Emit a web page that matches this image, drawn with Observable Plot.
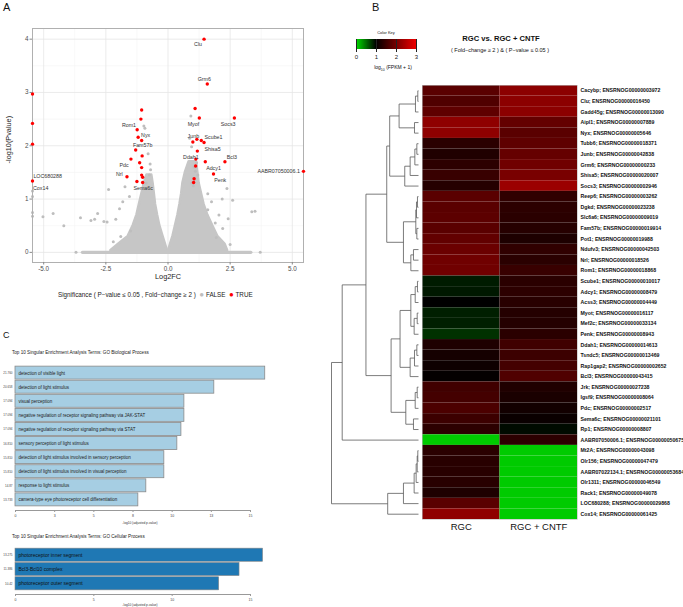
<!DOCTYPE html>
<html><head><meta charset="utf-8">
<script src="https://cdn.jsdelivr.net/npm/d3@7"></script>
<script src="https://cdn.jsdelivr.net/npm/@observablehq/plot@0.6"></script>
<style>
body{margin:0;background:#fff;}
#root{position:relative;width:683px;height:607px;overflow:hidden;background:#fff;font-family:"Liberation Sans",Arial,sans-serif;color:#222;}
#root svg{overflow:visible;}
.t{position:absolute;white-space:nowrap;line-height:1;}
</style></head><body><div id="root"></div>
<script>
// ---------------- Panel A: volcano ----------------
const volcRed = [
  {x:1.45,y:4.0},{x:1.58,y:3.16},{x:1.09,y:2.70},{x:1.26,y:2.52},{x:2.67,y:2.52},{x:1.16,y:2.12},
  {x:1.34,y:2.10},{x:1.45,y:2.06},{x:1.0,y:2.07},{x:1.18,y:1.90},{x:1.12,y:1.75},{x:2.29,y:1.70},
  {x:1.5,y:1.70},{x:1.11,y:1.62},{x:1.83,y:1.47},{x:1.05,y:1.38},{x:1.03,y:1.31},{x:5.45,y:1.52},
  {x:-1.06,y:2.67},{x:-1.09,y:2.50},{x:-1.24,y:2.30},{x:-1.2,y:2.16},{x:-1.06,y:2.10},{x:-1.30,y:1.92},
  {x:-1.04,y:1.81},{x:-1.49,y:1.75},{x:-1.14,y:1.68},{x:-1.06,y:1.59},{x:-1.65,y:1.42},{x:-1.06,y:1.45},
  {x:-1.02,y:1.41},{x:-1.25,y:1.33},{x:-1.02,y:1.31},
  {x:-5.45,y:2.97},{x:-5.45,y:2.42},{x:-5.45,y:2.03},{x:-5.45,y:1.34}
];
const volcGray = [
  {x:-0.97,y:2.37},{x:-0.93,y:2.33},{x:-0.8,y:1.85},{x:-0.72,y:1.66},{x:-0.7,y:1.55},{x:-0.75,y:1.45},
  {x:-0.88,y:1.3},{x:-0.78,y:1.2},{x:0.92,y:2.56},{x:0.87,y:2.14},{x:0.95,y:1.98},{x:1.05,y:1.6},
  {x:1.1,y:1.52},{x:1.2,y:1.45},{x:1.15,y:1.68},{x:0.95,y:1.3},{x:1.02,y:1.25},
  {x:-5.45,y:1.15},{x:-5.45,y:1.05},{x:-5.45,y:0.75},{x:-5.45,y:0.68},{x:-5.03,y:0.67},{x:-4.62,y:0.73},
  {x:-4.19,y:0.5},{x:-3.7,y:0},{x:-3.52,y:0.65},{x:-3.1,y:0.6},{x:-2.95,y:0.62},{x:-2.83,y:0.73},
  {x:-2.58,y:0.58},{x:-2.45,y:0.57},{x:-2.39,y:1.18},{x:-2.1,y:0.62},{x:-1.95,y:0.82},{x:-1.73,y:1.23},
  {x:-1.82,y:0.95},{x:-1.55,y:1.05},{x:-1.5,y:0.4},{x:-1.9,y:0.3},{x:-2.2,y:0.2},
  {x:1.6,y:1.1},{x:1.75,y:0.95},{x:1.94,y:0.28},{x:2.05,y:0.7},{x:2.18,y:1.0},{x:2.37,y:1.2},
  {x:2.6,y:0.98},{x:2.42,y:0.63},{x:2.2,y:0.45},{x:2.5,y:0.15},{x:3.37,y:0.76},{x:3.5,y:0.77},
  {x:3.71,y:0},{x:1.9,y:0.55},{x:1.6,y:0.8}
];
const volcLeftArm = [
  {y:0.03,x1:-2.3,x2:-0.02},{y:0.15,x1:-2.0,x2:-0.1},{y:0.3,x1:-1.6,x2:-0.2},{y:0.5,x1:-1.4,x2:-0.33},
  {y:0.7,x1:-1.25,x2:-0.42},{y:0.9,x1:-1.15,x2:-0.5},{y:1.1,x1:-1.05,x2:-0.55},{y:1.3,x1:-0.95,x2:-0.6},
  {y:1.45,x1:-0.85,x2:-0.65}
];
const volcRightArm = [
  {y:0.03,x1:0.02,x2:2.4},{y:0.15,x1:0.1,x2:2.3},{y:0.3,x1:0.2,x2:2.0},{y:0.5,x1:0.3,x2:1.8},
  {y:0.7,x1:0.4,x2:1.6},{y:0.9,x1:0.48,x2:1.45},{y:1.1,x1:0.55,x2:1.35},{y:1.3,x1:0.6,x2:1.25},
  {y:1.5,x1:0.7,x2:1.2},{y:1.7,x1:0.85,x2:1.15}
];
const volcZeroBand = [{x1:-3.44,x2:3.33,y:0}];
const volcLabels = [
  {name:"Clu",x:1.21,y:3.90},{name:"Grm6",x:1.46,y:3.24},{name:"Myof",x:1.02,y:2.40},
  {name:"Socs3",x:2.42,y:2.40},{name:"Junb",x:1.02,y:2.18},{name:"Scube1",x:1.83,y:2.15},
  {name:"Shisa5",x:1.79,y:1.94},{name:"Ddah1",x:0.92,y:1.79},{name:"Bcl3",x:2.57,y:1.79},
  {name:"Adcy1",x:1.83,y:1.58},{name:"Penk",x:2.10,y:1.35},{name:"AABR07050006.1",x:4.45,y:1.53},
  {name:"Rom1",x:-1.57,y:2.38},{name:"Nyx",x:-0.9,y:2.19},{name:"Fam57b",x:-1.02,y:2.01},
  {name:"Pdc",x:-1.77,y:1.63},{name:"Nrl",x:-1.96,y:1.46},{name:"Sema6c",x:-1.0,y:1.21},
  {name:"LOC680288",x:-4.84,y:1.43},{name:"Cox14",x:-5.12,y:1.21}
];
const volcXTicks = [-5,-2.5,0,2.5,5];
const volcYTicks = [0,1,2,3,4];

// ---------------- Panel B: heatmap ----------------
const samples = ["RGC","RGC + CNTF"];
const genes = [
"Cacybp; ENSRNOG00000003972","Clu; ENSRNOG00000016450","Gadd45g; ENSRNOG00000013090",
"Aipl1; ENSRNOG00000007889","Nyx; ENSRNOG00000005646","Tubb6; ENSRNOG00000018371",
"Junb; ENSRNOG00000042838","Grm6; ENSRNOG00000000233","Shisa5; ENSRNOG00000020007",
"Socs3; ENSRNOG00000002946","Reep6; ENSRNOG00000003262","Dgkd; ENSRNOG00000023238",
"Slc6a6; ENSRNOG00000009019","Fam57b; ENSRNOG00000019914","Pot1; ENSRNOG00000019988",
"Ndufv3; ENSRNOG00000042503","Nrl; ENSRNOG00000018526","Rom1; ENSRNOG00000018868",
"Scube1; ENSRNOG00000010017","Adcy1; ENSRNOG00000008479","Acss3; ENSRNOG00000004449",
"Myot; ENSRNOG00000016117","Mef2c; ENSRNOG00000033134","Penk; ENSRNOG00000008943",
"Ddah1; ENSRNOG00000014613","Tsndc5; ENSRNOG00000013469","Rap1gap2; ENSRNOG00000002652",
"Bcl3; ENSRNOG00000043415","Jrk; ENSRNOG00000027238","Igsf9; ENSRNOG00000008064",
"Pdc; ENSRNOG00000002517","Sema6c; ENSRNOG00000021101","Rp1; ENSRNOG00000008807",
"AABR07050006.1; ENSRNOG00000050675","Mt2A; ENSRNOG00000043098","Olr156; ENSRNOG00000047479",
"AABR07022134.1; ENSRNOG00000053684","Olr1311; ENSRNOG00000046549","Rack1; ENSRNOG00000049078",
"LOC680288; ENSRNOG00000029868","Cox14; ENSRNOG00000061425"
];
const rgcValues = [1.76,1.67,1.80,2.20,2.20,1.35,1.27,1.37,1.47,1.31,1.76,1.76,1.77,1.76,1.82,1.90,1.94,1.94,0.88,0.89,1.00,0.86,0.86,0.78,1.25,1.18,1.12,1.03,1.54,1.57,1.64,1.50,1.37,0.08,1.35,1.34,1.34,1.34,1.25,1.76,2.20];
const cntfValues = [2.18,2.18,2.18,1.84,1.76,1.80,1.85,1.94,2.02,2.30,1.40,1.37,1.35,1.32,1.24,1.40,1.35,1.47,1.35,1.37,1.34,1.30,1.30,1.35,1.54,1.50,1.57,1.67,1.27,1.22,1.15,1.08,0.95,1.37,0.08,0.08,0.08,0.08,0.08,0.08,0.08];
// row dendrogram: [height, left, right], leaves are row indices
const rowTree = [10.0,
  [8.77,
    [6.04,
      [3.65,
        [3.31, [2.23, [0.35,[0.08,0,1],2], [0.46,3,4]], [1.58,[0.96,[0.42,[0.19,5,6],7],8],9]],
        [1.73, [0.31,[0.23,[0.12,10,11],12],[0.19,13,14]], [0.88,[0.58,15,16],17]]
      ],
      [3.15,
        [2.12, [0.88,[0.38,[0.12,18,19],20],[0.5,[0.15,21,22],23]], [0.96,[0.46,[0.19,24,25],26],27]],
        [1.46, [0.38,[0.15,28,29],30], [0.58,31,32]]
      ]
    ],
    33
  ],
  [3.54, [1.73,[0.5,[0.27,[0.15,[0.08,34,35],36],37],38],39],40]
];
const keyTicks = [0,1,2,3];
const keyColors = ["#00dd00","#000000","#770000","#ee0000"];

// ---------------- Panel C: GO bars ----------------
const bpTerms = ["detection of visible light","detection of light stimulus","visual perception",
 "negative regulation of receptor signaling pathway via JAK-STAT",
 "negative regulation of receptor signaling pathway via STAT",
 "sensory perception of light stimulus","detection of light stimulus involved in sensory perception",
 "detection of light stimulus involved in visual perception","response to light stimulus",
 "camera-type eye photoreceptor cell differentiation"];
const bpValues = [15.94,12.69,10.78,10.78,10.59,10.33,9.5,9.5,8.35,7.84];
const bpSide = ["21.760","20.658","17.094","17.094","17.094","16.810","15.810","15.810","14.87","13.733"];
const bpTicks = [0,2.5,5,7.5,10,12.5,15];
const ccTerms = ["photoreceptor inner segment","Bcl3-Bcl10 complex","photoreceptor outer segment"];
const ccValues = [15.8,14.3,13.0];
const ccSide = ["13.275","11.386","10.42"];
const ccTicks = [0,5,10,15];

// ================= drawing =================
const root = document.getElementById("root");
function place(el, x, y){ el.style.position="absolute"; el.style.left=x+"px"; el.style.top=y+"px"; root.append(el); return el; }
function txt(s, x, y, css, center){ const d=document.createElement("div"); d.className="t"; d.textContent=s;
  d.style.left=x+"px"; d.style.top=y+"px"; d.style.cssText += css||""; if(center) d.style.transform="translate(-50%,0)"; root.append(d); return d; }

// Panel A
const volcano = Plot.plot({
  width: 310, height: 290, marginLeft: 32, marginRight: 7, marginTop: 28, marginBottom: 28,
  style: {fontFamily:"Liberation Sans, Arial, sans-serif", background:"transparent", color:"#4d4d4d"},
  x: {domain:[-5.45,5.45]}, y: {domain:[-0.19,4.2]},
  marks: [
    Plot.gridX([-3.75,-1.25,1.25,3.75], {stroke:"#f3f3f3", strokeOpacity:1, strokeWidth:0.6}),
    Plot.gridY([0.5,1.5,2.5,3.5], {stroke:"#f3f3f3", strokeOpacity:1, strokeWidth:0.6}),
    Plot.gridX(volcXTicks, {stroke:"#e6e6e6", strokeOpacity:1, strokeWidth:0.8}),
    Plot.gridY(volcYTicks, {stroke:"#e6e6e6", strokeOpacity:1, strokeWidth:0.8}),
    Plot.areaX(volcLeftArm, {y:"y", x1:"x1", x2:"x2", fill:"#c6c6c6", stroke:"#c6c6c6", strokeWidth:2.5, strokeLinejoin:"round"}),
    Plot.areaX(volcRightArm, {y:"y", x1:"x1", x2:"x2", fill:"#c6c6c6", stroke:"#c6c6c6", strokeWidth:2.5, strokeLinejoin:"round"}),
    Plot.link(volcZeroBand, {x1:"x1", x2:"x2", y1:"y", y2:"y", stroke:"#c6c6c6", strokeWidth:3.4, strokeLinecap:"round"}),
    Plot.dot(volcGray, {x:"x", y:"y", r:1.5, fill:"#bebebe"}),
    Plot.frame({stroke:"#b0b0b0"}),
    Plot.dot(volcRed, {x:"x", y:"y", r:1.7, fill:"#ff0000"}),
    Plot.text(volcLabels, {x:"x", y:"y", text:"name", fontSize:5.3, fill:"#333"}),
    Plot.axisX({ticks:volcXTicks, tickFormat:d=>d.toFixed(1), tickSize:2.5, tickPadding:1.5, fontSize:6.3, label:null, stroke:"#888"}),
    Plot.axisY({ticks:volcYTicks, tickFormat:d=>String(d), tickSize:2.5, tickPadding:1.5, fontSize:6.3, label:null, stroke:"#888"})
  ]
});
place(volcano, 0, 0);
txt("A", 3, 2, "font-size:11px;color:#111;");
txt("Log2FC", 168, 273, "font-size:7.3px;color:#222;", true);
const yl = txt("-log10(Pvalue)", 9, 136, "font-size:7.3px;color:#222;");
yl.style.transform = "translate(-50%,0) rotate(-90deg)"; yl.style.transformOrigin="50% 50%";
const lg = txt("", 58, 291, "font-size:6.3px;color:#222;");
lg.innerHTML = 'Significance ( P\u2212value \u2264 0.05 , Fold\u2212change \u2265 2 ) &nbsp;<span style="color:#bebebe;font-size:8px">\u25CF</span> FALSE &nbsp;<span style="color:#ff0000;font-size:8px">\u25CF</span> TRUE';

// Panel B
const keyInterp = d3.piecewise(d3.interpolateRgb, keyColors);
const heatData = genes.flatMap((g,i)=>[{gene:g, sample:samples[0], value:rgcValues[i]},{gene:g, sample:samples[1], value:cntfValues[i]}]);
const heat = Plot.plot({
  width: 261, height: 459, marginLeft: 0, marginRight: 106, marginTop: 0, marginBottom: 25,
  style: {fontFamily:"Liberation Sans, Arial, sans-serif", background:"transparent", color:"#111"},
  x: {domain:samples, padding:0, round:false}, y: {domain:genes, padding:0, round:false},
  color: {type:"linear", domain:[0,3], interpolate:keyInterp},
  marks: [
    Plot.cell(heatData, {x:"sample", y:"gene", fill:"value", inset:0}),
    Plot.frame({stroke:"#bbb", strokeWidth:0.6}),
    Plot.axisY({anchor:"right", tickSize:0, tickPadding:3, fontSize:5.2, fontWeight:"bold", label:null}),
    Plot.axisX({anchor:"bottom", tickSize:0, tickPadding:4, fontSize:9.5, label:null})
  ]
});
place(heat, 422, 85);

const segs = [];
function layoutTree(node){
  if (typeof node === "number") return {h:0, y:node};
  const [h,a,b] = node; const A = layoutTree(a), B = layoutTree(b);
  segs.push({x1:A.h,y1:A.y,x2:h,y2:A.y},{x1:B.h,y1:B.y,x2:h,y2:B.y},{x1:h,y1:A.y,x2:h,y2:B.y});
  return {h, y:(A.y+B.y)/2};
}
layoutTree(rowTree);
const dendro = Plot.plot({
  width: 100, height: 434, margin: 0,
  x: {domain:[10,0], range:[6,93], axis:null},
  y: {domain:[0,genes.length-1], range:[5.3,428.7], axis:null},
  marks: [Plot.link(segs, {x1:"x1", y1:"y1", x2:"x2", y2:"y2", stroke:"#5a5a5a", strokeWidth:0.8})]
});
place(dendro, 325, 85);

const key = Plot.legend({color:{type:"linear", domain:[0,3], interpolate:keyInterp}, width:72, height:26, marginTop:0, marginBottom:16, marginLeft:6, marginRight:6, ticks:keyTicks, tickFormat:d=>String(d), tickSize:3, label:null, style:{fontSize:"6px", fontFamily:"Liberation Sans, Arial, sans-serif", background:"transparent"}});
place(key, 350, 39);
txt("B", 372, 2, "font-size:11px;color:#111;");
txt("Color Key", 386, 31, "font-size:4px;color:#111;", true);
const kl = txt("", 393, 65, "font-size:5px;color:#111;", true);
kl.innerHTML = 'log<sub style="font-size:3.5px">10</sub> (FPKM + 1)';
txt("RGC vs. RGC + CNTF", 501, 35, "font-size:7.6px;font-weight:bold;color:#111;", true);
txt("( Fold\u2212change \u2265 2 ) & ( P\u2212value \u2264 0.05 )", 500, 48, "font-size:5.5px;color:#111;", true);

// Panel C
txt("C", 3, 331, "font-size:9px;color:#111;");
txt("Top 10 Singular Enrichment Analysis Terms: GO Biological Process", 12, 351, "font-size:4.6px;color:#222;");
const bpData = bpTerms.map((t,i)=>({term:t, value:bpValues[i], side:bpSide[i]}));
const bp = Plot.plot({
  width: 290, height: 175, marginLeft: 15, marginRight: 40, marginTop: 4, marginBottom: 26,
  style: {fontFamily:"Liberation Sans, Arial, sans-serif", background:"transparent", color:"#444"},
  x: {domain:[0,15]}, y: {domain:bpTerms, padding:0.08, axis:null, insetBottom:3, round:false},
  marks: [
    Plot.barX(bpData, {x:"value", y:"term", fill:"#a6cee3", stroke:"#8a8a8a", strokeWidth:0.8}),
    Plot.text(bpData, {x:0, y:"term", text:"term", textAnchor:"start", dx:3, fontSize:4.5, fill:"#222"}),
    Plot.text(bpData, {x:0, y:"term", text:"side", textAnchor:"end", dx:-3, fontSize:3, fill:"#444"}),
    Plot.frame({anchor:"bottom", stroke:"#999"}),
    Plot.axisX({ticks:bpTicks, tickSize:2, tickPadding:2, fontSize:3.5, label:null, stroke:"#999"})
  ]
});
place(bp, 0, 361);
txt("-log10 (adjusted p-value)", 140, 522, "font-size:3.2px;color:#333;", true);

txt("Top 10 Singular Enrichment Analysis Terms: GO Cellular Process", 12, 535, "font-size:4.6px;color:#222;");
const ccData = ccTerms.map((t,i)=>({term:t, value:ccValues[i], side:ccSide[i]}));
const cc = Plot.plot({
  width: 290, height: 70, marginLeft: 15, marginRight: 40, marginTop: 3, marginBottom: 20,
  style: {fontFamily:"Liberation Sans, Arial, sans-serif", background:"transparent", color:"#444"},
  x: {domain:[0,15]}, y: {domain:ccTerms, padding:0.08, axis:null, insetBottom:3, round:false},
  marks: [
    Plot.barX(ccData, {x:"value", y:"term", fill:"#1f78b4", stroke:"#888", strokeWidth:0.6}),
    Plot.text(ccData, {x:0, y:"term", text:"term", textAnchor:"start", dx:3, fontSize:5, fill:"#111"}),
    Plot.text(ccData, {x:0, y:"term", text:"side", textAnchor:"end", dx:-3, fontSize:3, fill:"#444"}),
    Plot.frame({anchor:"bottom", stroke:"#999"}),
    Plot.axisX({ticks:ccTicks, tickSize:2, tickPadding:2, fontSize:3.5, label:null, stroke:"#999"})
  ]
});
place(cc, 0, 544);
txt("-log10 (adjusted p-value)", 140, 604, "font-size:3.2px;color:#333;", true);
</script></body></html>
